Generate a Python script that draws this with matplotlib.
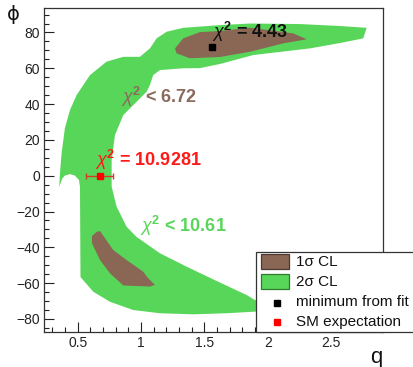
import matplotlib
matplotlib.use("Agg")
import matplotlib.pyplot as plt
from matplotlib.patches import Rectangle
from matplotlib.ticker import MultipleLocator, FormatStrFormatter

plt.rcParams['font.family'] = ['Liberation Sans', 'DejaVu Sans']
plt.rcParams['mathtext.fontset'] = 'custom'
plt.rcParams['mathtext.rm'] = 'Liberation Sans'
plt.rcParams['mathtext.it'] = 'Liberation Sans:italic'
plt.rcParams['mathtext.bf'] = 'Liberation Sans:bold'

# 2 sigma contour (green)
cl2_q = [0.354, 0.360, 0.373, 0.399, 0.439, 0.492, 0.597, 0.728, 0.860, 0.991,
         1.070, 1.123, 1.202, 1.333, 1.623, 1.859, 2.254, 2.570, 2.781, 2.754,
         2.570, 2.333, 1.886, 1.623, 1.465, 1.333, 1.149, 1.096, 1.070, 1.044,
         0.965, 0.860, 0.794, 0.768, 0.768, 0.807, 0.886, 0.965, 1.149, 1.360,
         1.597, 1.833, 1.899, 2.057, 2.057, 1.899, 1.676, 1.412, 1.149, 0.938,
         0.755, 0.623, 0.522, 0.518, 0.510, 0.478, 0.439, 0.399, 0.376]
cl2_phi = [-6.3, 1.5, 12.7, 26.6, 36.7, 45.1, 56.2, 63.7, 66.4, 66.4,
           71.1, 76.7, 80.4, 82.6, 84.1, 85.0, 84.7, 83.6, 82.6, 76.7,
           74.1, 71.1, 67.4, 62.4, 60.1, 60.0, 59.0, 56.2, 50.6, 46.9,
           41.3, 33.9, 22.7, 8.8, -6.1, -17.3, -28.5, -34.2, -43.3, -50.8,
           -58.8, -66.6, -69.4, -71.1, -75.0, -75.9, -76.8, -77.4, -76.8, -75.0,
           -70.4, -64.8, -56.6, -6.3, -2.4, 0.1, 0.9, 0.1, -1.8]

# 1 sigma contours (brown)
cl1a_q = [1.268, 1.333, 1.465, 1.623, 1.859, 2.201, 2.307, 2.122, 1.859, 1.623, 1.386, 1.281]
cl1a_phi = [71.1, 76.7, 80.2, 80.8, 82.7, 79.5, 76.2, 73.9, 69.2, 66.3, 65.6, 68.3]
cl1b_q = [0.650, 0.676, 0.781, 0.886, 1.017, 1.054, 1.110, 1.070, 0.860, 0.755, 0.676, 0.612, 0.612]
cl1b_phi = [-31.3, -30.9, -41.5, -47.1, -53.6, -57.1, -61.0, -61.9, -61.3, -54.5, -47.1, -37.6, -33.7]

fit_q, fit_phi = 1.562, 71.7
sm_q, sm_phi = 0.678, 0.0
sm_err_lo, sm_err_hi = 0.113, 0.103

green = '#58d659'
brown = '#8a6655'

fig = plt.figure(figsize=(4.14, 3.67), dpi=100)
ax = fig.add_axes([0.1063, 0.0962, 0.8188, 0.8812])
ax.set_xlim(0.234, 2.91)
ax.set_ylim(-87.1, 93.5)

ax.fill(cl2_q, cl2_phi, color=green, lw=0, zorder=1)
ax.fill(cl1a_q, cl1a_phi, color=brown, lw=0, zorder=2)
ax.fill(cl1b_q, cl1b_phi, color=brown, lw=0, zorder=2)

ax.plot(fit_q, fit_phi, 's', color='black', ms=5, zorder=5)
ax.errorbar(sm_q, sm_phi, xerr=[[sm_err_lo], [sm_err_hi]], fmt='s', color='#ff0000',
            ecolor='#d23a2a', ms=5, elinewidth=1, capsize=2, capthick=1, zorder=5)

ax.text(1.557, 76.7, r'$\chi^{\mathbf{2}}$ = 4.43', fontsize=13, weight='bold', color='#111111', zorder=6)
ax.text(0.839, 40.4, r'$\chi^{\mathbf{2}}$ < 6.72', fontsize=13, weight='bold', color='#8a6a5c', zorder=6)
ax.text(0.636, 5.4, r'$\chi^{\mathbf{2}}$ = 10.9281', fontsize=13, weight='bold', color='#ff1a1a', zorder=6)
ax.text(0.991, -31.2, r'$\chi^{\mathbf{2}}$ < 10.61', fontsize=13, weight='bold', color='#5ad65a', zorder=6)

ax.xaxis.set_major_locator(MultipleLocator(0.5))
ax.xaxis.set_minor_locator(MultipleLocator(0.1))
ax.yaxis.set_major_locator(MultipleLocator(20))
ax.yaxis.set_minor_locator(MultipleLocator(5))
ax.xaxis.set_major_formatter(FormatStrFormatter('%g'))
ax.tick_params(which='both', direction='in', top=False, right=False, width=0.8,
               colors='#222222', labelsize=10, pad=3)
ax.tick_params(which='major', length=7)
ax.tick_params(which='minor', length=3.5)
for s in ax.spines.values():
    s.set_color('#333333')
    s.set_linewidth(0.9)

fig.text(13 / 414, 1 - 15 / 367, '\u03d5', family='DejaVu Sans', fontsize=14,
         ha='center', va='center', color='#111111')
fig.text(376.7 / 414, 1 - 357 / 367, 'q', fontsize=16, ha='center', va='center', color='#111111')

# legend drawn in pixel coordinates on an overlay
lg = fig.add_axes([0, 0, 1, 1], zorder=10)
lg.set_xlim(0, 414)
lg.set_ylim(367, 0)
lg.axis('off')
lg.add_patch(Rectangle((256, 251.5), 170, 80.2, facecolor='white', edgecolor='#333333', lw=0.9))
lg.add_patch(Rectangle((261, 254.3), 28.3, 14.7, facecolor=brown, edgecolor='#4a3a32', lw=0.9))
lg.add_patch(Rectangle((261, 274.3), 28.3, 14.7, facecolor=green, edgecolor='#2f7a2f', lw=0.9))
lg.plot(276.7, 303.3, 's', color='black', ms=4)
lg.plot(276.7, 322.3, 's', color='#ff0000', ms=4)
labels = ['1\u03c3 CL', '2\u03c3 CL', 'minimum from fit', 'SM expectation']
ys = [261.7, 281.7, 302.3, 322.3]
for lab, y in zip(labels, ys):
    lg.text(295.7, y, lab, fontsize=11, va='center', ha='left', color='#111111')

fig.savefig('out.png', dpi=100)
